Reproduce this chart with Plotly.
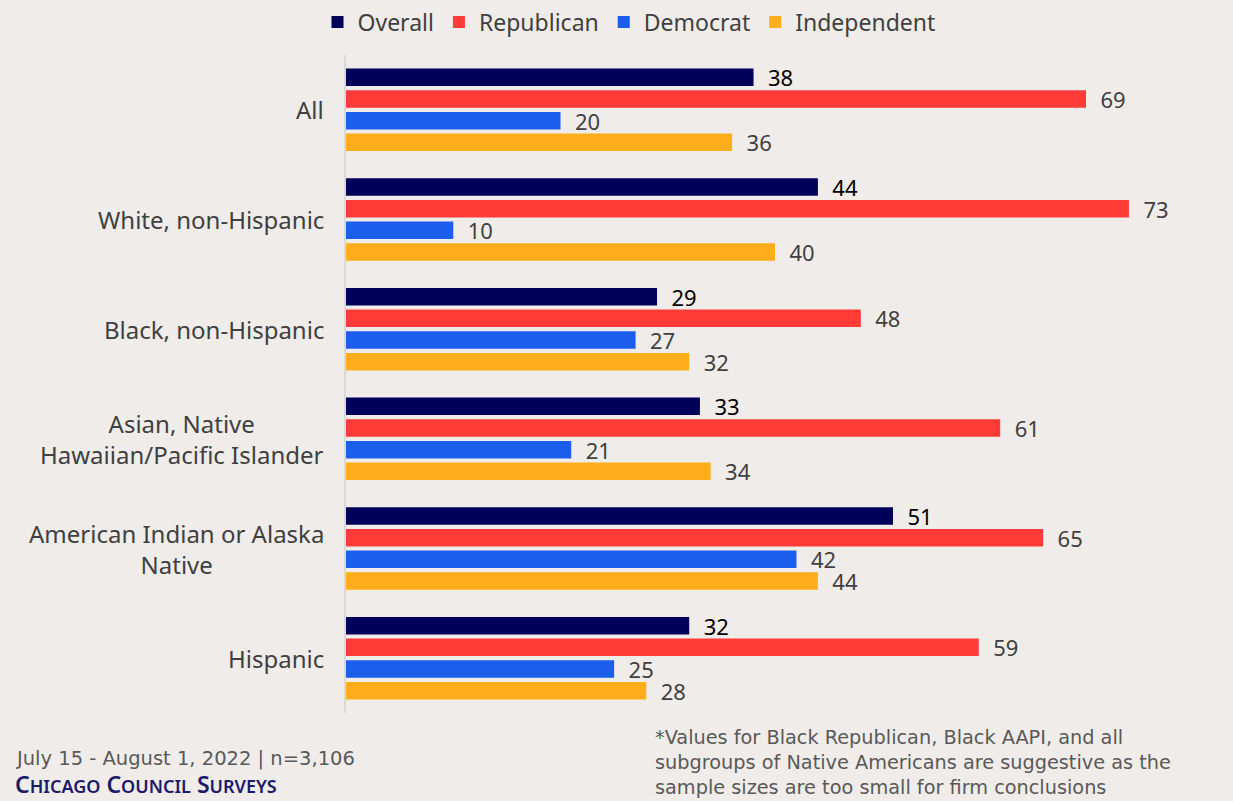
import plotly.graph_objects as go

categories = [
    "All",
    "White, non-Hispanic",
    "Black, non-Hispanic",
    "Asian, Native<br>Hawaiian/Pacific Islander",
    "American Indian or Alaska<br>Native",
    "Hispanic",
]
series_names = ["Overall", "Republican", "Democrat", "Independent"]
overall = [38, 44, 29, 33, 51, 32]
republican = [69, 73, 48, 61, 65, 59]
democrat = [20, 10, 27, 21, 42, 25]
independent = [36, 40, 32, 34, 44, 28]

footnote = ("*Values for Black Republican, Black AAPI, and all<br>"
            "subgroups of Native Americans are suggestive as the<br>"
            "sample sizes are too small for firm conclusions")

colors = ["#00005A", "#FF3B38", "#1A5EEB", "#FFAD1A"]
label_colors = ["#000000", "#404040", "#404040", "#404040"]

W, H = 1233, 801
ML, MR, MT, MB = 346, 29, 55, 88
PW, PH = W - ML - MR, H - MT - MB
BG = "#F0ECE9"
FONT = "Noto Sans"
NOTE_FONT = "DejaVu Sans"


def px_x(px):
    return (px - ML) / PW


def px_y(py):
    return (H - MB - py) / PH


fig = go.Figure()
for name, vals, col, lcol in zip(series_names, [overall, republican, democrat, independent], colors, label_colors):
    fig.add_trace(go.Bar(
        name=name,
        y=list(range(len(categories))),
        x=vals,
        orientation="h",
        marker=dict(color=col, line=dict(width=0)),
        text=vals,
        texttemplate="\u00a0\u00a0%{x}",
        textposition="outside",
        constraintext="none",
        textfont=dict(family=FONT, size=22, color=lcol),
        cliponaxis=False,
        hoverinfo="skip",
    ))

# category labels, centered line by line and right-aligned to the axis
for i, cat in enumerate(categories):
    fig.add_annotation(
        x=0, y=i, xref="x", yref="y",
        text=cat, showarrow=False,
        xanchor="right", yanchor="middle", align="center",
        xshift=-20,
        font=dict(family=FONT, size=24, color="#404040"),
    )

fig.add_annotation(
    x=px_x(13), y=px_y(758), xref="paper", yref="paper",
    text="July 15 - August 1, 2022 | n=3,106", showarrow=False,
    xanchor="left", yanchor="middle",
    font=dict(family=NOTE_FONT, size=19.5, color="#595959"),
)
fig.add_annotation(
    x=px_x(13), y=px_y(784), xref="paper", yref="paper",
    text=("C<span style='font-size:18px'>HICAGO</span> "
          "C<span style='font-size:18px'>OUNCIL</span> "
          "S<span style='font-size:18px'>URVEYS</span>"),
    showarrow=False, xanchor="left", yanchor="middle",
    font=dict(family=FONT, size=23, color="#1C1A6B", weight=600),
)
fig.add_annotation(
    x=px_x(653), y=px_y(762), xref="paper", yref="paper",
    text=footnote, showarrow=False, xanchor="left", yanchor="middle", align="left",
    font=dict(family=NOTE_FONT, size=19.3, color="#595959"),
)

fig.update_layout(
    width=W, height=H,
    margin=dict(l=ML, r=MR, t=MT, b=MB, pad=0, autoexpand=False),
    paper_bgcolor=BG, plot_bgcolor=BG,
    barmode="group", bargap=0.21, bargroupgap=0.19,
    showlegend=True,
    legend=dict(
        orientation="h", x=px_x(629), xanchor="center", y=px_y(22), yanchor="middle",
        font=dict(family=FONT, size=23, color="#404040"),
        bgcolor="rgba(0,0,0,0)", itemwidth=30,
        traceorder="normal",
    ),
    xaxis=dict(range=[0, 80], showgrid=False, zeroline=False, showticklabels=False,
               ticks="", showline=False),
    yaxis=dict(range=[len(categories) - 0.5, -0.5], showgrid=False, zeroline=False,
               showticklabels=False, ticks="", showline=True, linecolor="#D9D9D9",
               linewidth=2),
)

fig.write_html("out.html")
